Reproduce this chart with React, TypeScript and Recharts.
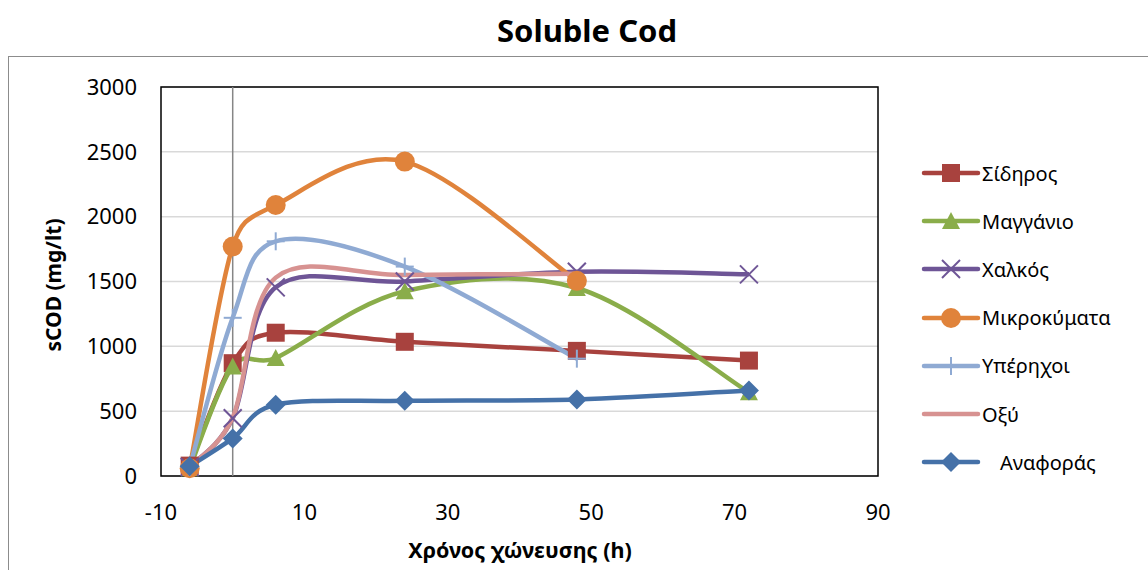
import React from 'react';
import { LineChart, Line, XAxis, YAxis, CartesianGrid, ReferenceLine, ReferenceArea } from 'recharts';

// digestion time (h)
const hours = [-6, 0, 6, 24, 48, 72];

const sidiros = [80, 870, 1105, 1035, 965, 890];
const manganio = [60, 845, 910, 1425, 1450, 645];
const chalkos = [70, 445, 1455, 1500, 1575, 1555];
const mikrokymata = [60, 1770, 2090, 2425, 1505, null];
const yperichoi = [70, 1220, 1810, 1615, 905, null];
const oxy = [70, 450, 1530, 1550, 1560, null];
const anaforas = [75, 290, 550, 580, 590, 660];

const xTicks = [-10, 10, 30, 50, 70, 90];
const yTicks = [0, 500, 1000, 1500, 2000, 2500, 3000];

const series = [
  { key: 'sidiros', name: 'Σίδηρος', values: sidiros, color: '#A8423E', shape: 'square' },
  { key: 'manganio', name: 'Μαγγάνιο', values: manganio, color: '#8AAD4A', shape: 'triangle' },
  { key: 'chalkos', name: 'Χαλκός', values: chalkos, color: '#6E5596', shape: 'cross' },
  { key: 'mikrokymata', name: 'Μικροκύματα', values: mikrokymata, color: '#E0833B', shape: 'circle' },
  { key: 'yperichoi', name: 'Υπέρηχοι', values: yperichoi, color: '#8FAAD3', shape: 'plus' },
  { key: 'oxy', name: 'Οξύ', values: oxy, color: '#D79291', shape: 'none' },
  { key: 'anaforas', name: 'Αναφοράς', values: anaforas, color: '#4571A8', shape: 'diamond' },
];

const data = hours.map((h, i) => {
  const row: any = { h };
  series.forEach((s) => { row[s.key] = s.values[i]; });
  return row;
});

// Excel-like smoothing: Catmull-Rom tangents, handle length capped at half the segment
const excelSmooth = (context: any) => {
  let pts: number[][] = [];
  const handle = (a: number[], b: number[], seg: number) => {
    const dx = b[0] - a[0];
    const dy = b[1] - a[1];
    const len = Math.hypot(dx, dy);
    if (!len) return [0, 0];
    const k = Math.min(len / 6, seg / 2) / len;
    return [dx * k, dy * k];
  };
  return {
    areaStart() {},
    areaEnd() {},
    lineStart() { pts = []; },
    point(x: number, y: number) { pts.push([+x, +y]); },
    lineEnd() {
      const n = pts.length;
      if (!n) return;
      context.moveTo(pts[0][0], pts[0][1]);
      for (let i = 0; i < n - 1; i++) {
        const p0 = pts[i - 1] || pts[i];
        const p1 = pts[i];
        const p2 = pts[i + 1];
        const p3 = pts[i + 2] || p2;
        const seg = Math.hypot(p2[0] - p1[0], p2[1] - p1[1]);
        const h1 = handle(p0, p2, seg);
        const h2 = handle(p1, p3, seg);
        context.bezierCurveTo(p1[0] + h1[0], p1[1] + h1[1], p2[0] - h2[0], p2[1] - h2[1], p2[0], p2[1]);
      }
    },
  };
};

const Marker = ({ shape, cx, cy, color }: { shape: string; cx: number; cy: number; color: string }) => {
  const s = 9;
  switch (shape) {
    case 'square':
      return <rect x={cx - s} y={cy - s} width={s * 2} height={s * 2} fill={color} />;
    case 'triangle':
      return <polygon points={`${cx},${cy - s} ${cx + s},${cy + s - 1} ${cx - s},${cy + s - 1}`} fill={color} />;
    case 'circle':
      return <circle cx={cx} cy={cy} r={s + 1} fill={color} />;
    case 'diamond':
      return <polygon points={`${cx},${cy - s - 1} ${cx + s + 1},${cy} ${cx},${cy + s + 1} ${cx - s - 1},${cy}`} fill={color} />;
    case 'cross':
      return (
        <g stroke={color} strokeWidth={2}>
          <line x1={cx - s} y1={cy - s} x2={cx + s} y2={cy + s} />
          <line x1={cx - s} y1={cy + s} x2={cx + s} y2={cy - s} />
        </g>
      );
    case 'plus':
      return (
        <g stroke={color} strokeWidth={2}>
          <line x1={cx - s} y1={cy} x2={cx + s} y2={cy} />
          <line x1={cx} y1={cy - s} x2={cx} y2={cy + s} />
        </g>
      );
    default:
      return null;
  }
};

const makeDot = (shape: string, color: string) => (props: any) => {
  const { cx, cy, index, value } = props;
  if (cx == null || cy == null || value == null || shape === 'none') return <g key={`d-${index}`} />;
  return (
    <g key={`d-${index}`}>
      <Marker shape={shape} cx={cx} cy={cy} color={color} />
    </g>
  );
};

const tickStyle = { fontSize: 22, fill: '#000', fontFamily: 'Noto Sans' };

const App: React.FC = () => {
  return (
    <div style={{ position: 'absolute', left: 0, top: 0, width: 1148, height: 570, overflow: 'hidden', background: '#fff', fontFamily: 'Noto Sans' }}>
      {/* outer chart frame */}
      <div style={{ position: 'absolute', left: 8, top: 56, width: 1200, height: 600, border: '1.5px solid #8c8c8c' }} />
      <div style={{ position: 'absolute', left: 0, top: 9, width: 1174, textAlign: 'center', fontSize: 31, lineHeight: '42px', fontWeight: 700 }}>
        Soluble Cod
      </div>

      <div style={{ position: 'absolute', left: 0, top: 0 }}>
        <LineChart width={1148} height={570} data={data} margin={{ top: 87, right: 270, left: 61, bottom: 34 }}>
          <CartesianGrid vertical={false} stroke="#d9d9d9" strokeWidth={1.5} />
          <XAxis
            dataKey="h"
            type="number"
            domain={[-10, 90]}
            ticks={xTicks}
            axisLine={false}
            tickLine={false}
            tickSize={0}
            tickMargin={28}
            height={60}
            tick={tickStyle}
          />
          <YAxis
            type="number"
            domain={[0, 3000]}
            ticks={yTicks}
            axisLine={false}
            tickLine={false}
            tickSize={0}
            tickMargin={24}
            width={100}
            tick={tickStyle}
          />
          <ReferenceArea x1={-10} x2={90} y1={0} y2={3000} fill="none" stroke="#000" strokeWidth={1.5} />
          <ReferenceLine x={0} stroke="#868686" strokeWidth={1.5} />
          {series.map((s) => (
            <Line
              key={s.key}
              dataKey={s.key}
              name={s.name}
              type={excelSmooth as any}
              stroke={s.color}
              strokeWidth={4.5}
              dot={makeDot(s.shape, s.color)}
              activeDot={false}
              isAnimationActive={false}
            />
          ))}
        </LineChart>
      </div>

      {/* axis titles */}
      <div style={{ position: 'absolute', left: 53, top: 285, transform: 'translate(-50%, -50%) rotate(-90deg)', whiteSpace: 'nowrap', fontSize: 21, fontWeight: 700 }}>
        sCOD (mg/lt)
      </div>
      <div style={{ position: 'absolute', left: 520, top: 549, transform: 'translate(-50%, -50%)', whiteSpace: 'nowrap', fontSize: 21.5, fontWeight: 700 }}>
        Χρόνος χώνευσης (h)
      </div>

      {/* legend */}
      {series.map((s, i) => {
        const y = 173 + i * 48.2;
        return (
          <div key={s.key} style={{ position: 'absolute', left: 920, top: y - 20, height: 40, display: 'flex', alignItems: 'center' }}>
            <svg width={62} height={40} style={{ display: 'block' }}>
              <line x1={4} y1={20} x2={58} y2={20} stroke={s.color} strokeWidth={4.5} strokeLinecap="round" />
              <Marker shape={s.shape} cx={31} cy={20} color={s.color} />
            </svg>
            <span style={{ fontSize: 20, marginLeft: s.key === 'anaforas' ? 18 : 0 }}>{s.name}</span>
          </div>
        );
      })}
    </div>
  );
};

export default App;
